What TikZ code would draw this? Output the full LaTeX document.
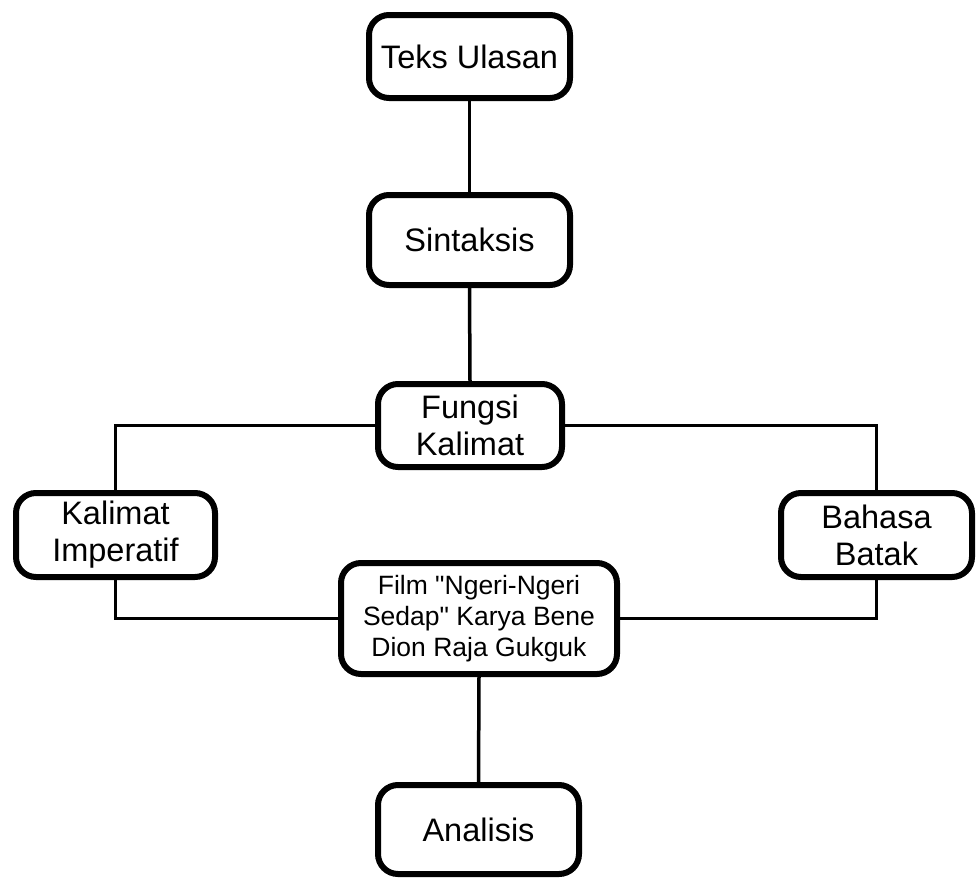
\documentclass[tikz,border=0pt]{standalone}
\usepackage{fontspec}
\newfontfamily\boxfont{Liberation Sans}
\begin{document}
\begin{tikzpicture}[x=1pt,y=-1pt,
  box/.style={draw=black, line width=6pt, rounded corners=20pt, fill=white,
    align=center, inner sep=0pt, font=\boxfont\fontsize{32.5}{37}\selectfont},
  link/.style={draw=black, line width=3.5pt}]
\useasboundingbox (0,0) rectangle (978,879);
\node[box, minimum width=201pt, minimum height=83pt] (teks) at (469.5,56.5) {Teks Ulasan};
\node[box, minimum width=201pt, minimum height=90pt] (sin) at (469.5,240) {Sintaksis};
\node[box, minimum width=184pt, minimum height=83pt] (fun) at (470,425.5) {Fungsi\\Kalimat};
\node[box, minimum width=199pt, minimum height=84pt] (imp) at (115.5,535) {Kalimat\\Imperatif};
\node[box, minimum width=191pt, minimum height=84pt] (bat) at (876.5,535) {Bahasa\\Batak};
\node[box, minimum width=276pt, minimum height=111pt, font=\boxfont\fontsize{26.5}{31}\selectfont] (film) at (479,618.5) {Film "Ngeri-Ngeri\\Sedap" Karya Bene\\Dion Raja Gukguk};
\node[box, minimum width=201pt, minimum height=89pt] (ana) at (478.5,829.5) {Analisis};
\draw[link] (teks.south) -- (sin.north);
\draw[link] (sin.south) -- (fun.north);
\draw[link] (fun.west) -| (imp.north);
\draw[link] (fun.east) -| (bat.north);
\draw[link] (imp.south) |- (film.west);
\draw[link] (bat.south) |- (film.east);
\draw[link] (film.south) -- (ana.north);
\end{tikzpicture}
\end{document}
